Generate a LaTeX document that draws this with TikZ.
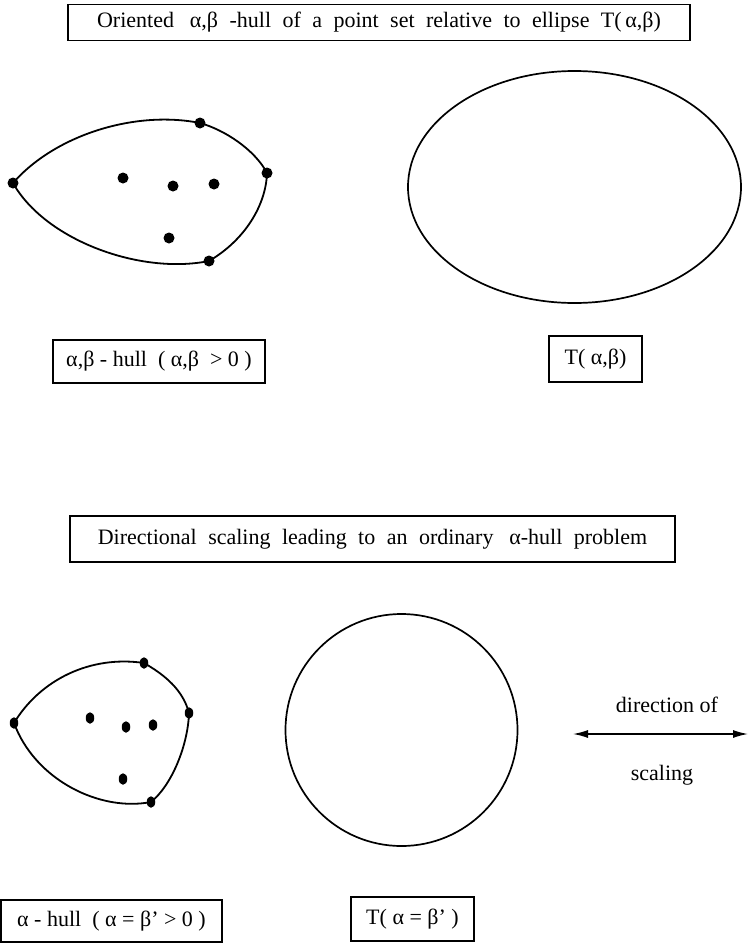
\documentclass[tikz,border=0pt]{standalone}
\usepackage{fontspec}
\setmainfont{Liberation Serif}
\usetikzlibrary{arrows.meta,shapes.geometric}
\newcommand\mywidespace{\spaceskip=0.52em\relax}
\begin{document}
\begin{tikzpicture}[x=1bp,y=-1bp,line width=1.8bp,
  lbl/.style={draw,line width=1.4bp,inner sep=0pt,font=\fontsize{22bp}{26bp}\selectfont},
  txt/.style={inner sep=0pt,font=\fontsize{22bp}{26bp}\selectfont},
  pt/.style={circle,fill,inner sep=0pt,minimum size=11bp},
  pte/.style={ellipse,fill,inner sep=0pt,minimum width=8.5bp,minimum height=11.5bp},
  dblarrow/.style={line width=1.4bp,{Latex[length=15bp,width=8bp]}-{Latex[length=15bp,width=8bp]}}]
\useasboundingbox (0,0) rectangle (748,944);

% titles
\node[lbl,minimum width=622bp,minimum height=36bp] (t1) at (379,22.5)
  {\mywidespace Oriented \hspace{0.2em}α,β -hull of a point set relative to ellipse T(\,α,β)};
\node[lbl,minimum width=605bp,minimum height=46bp] (t2) at (372.5,539)
  {\mywidespace Directional scaling leading to an ordinary \hspace{0.2em}α-hull problem};

% top hull
\node[pt] (L) at (13,183) {};
\node[pt] (A) at (200,123) {};
\node[pt] (B) at (267,173) {};
\node[pt] (C) at (209,261) {};
\node[pt] (p1) at (123,178) {};
\node[pt] (p2) at (173,186) {};
\node[pt] (p3) at (214,184) {};
\node[pt] (p4) at (169,238) {};
\draw (L.center) .. controls (55,135) and (135,110) .. (A.center)
      .. controls (225,130) and (255,150) .. (B.center)
      .. controls (266,205) and (245,240) .. (C.center)
      .. controls (140,275) and (45,240) .. (L.center);

% ellipse T(alpha,beta)
\draw[line width=1.7bp] (574.5,187) ellipse [x radius=166.5,y radius=116];

% labels top
\node[lbl,minimum width=212bp,minimum height=43bp] (h1) at (159,361.5)
  {α,β - hull\ \ ( α,β\ \ > 0 )};
\node[lbl,minimum width=93bp,minimum height=46bp] (e1) at (595.5,359)
  {T( α,β)};

% bottom hull
\node[pte] (L2) at (14,723) {};
\node[pte] (A2) at (144,663) {};
\node[pte] (B2) at (189,713) {};
\node[pte] (C2) at (151,802) {};
\node[pte] (q1) at (90,718) {};
\node[pte] (q2) at (126,727) {};
\node[pte] (q3) at (153,725) {};
\node[pte] (q4) at (123,779) {};
\draw (L2.center) .. controls (40,680) and (90,655) .. (A2.center)
      .. controls (165,675) and (183,690) .. (B2.center)
      .. controls (188,745) and (172,785) .. (C2.center)
      .. controls (100,812) and (35,780) .. (L2.center);

% circle
\draw[line width=1.7bp] (401.5,730) circle [radius=116];

% direction arrow
\coordinate (aL) at (573,734);
\coordinate (aR) at (748,734);
\draw[dblarrow] (aL) -- (aR);
\node[txt] (d1) at (667,705) {direction of};
\node[txt] (d2) at (662,775) {scaling};

% labels bottom
\node[lbl,minimum width=221bp,minimum height=42bp] (h2) at (111.5,921)
  {α - hull\ \ ( α = β' > 0 )};
\node[lbl,minimum width=123bp,minimum height=44bp] (e2) at (412.5,919)
  {T( α = β' )};
\end{tikzpicture}
\end{document}
